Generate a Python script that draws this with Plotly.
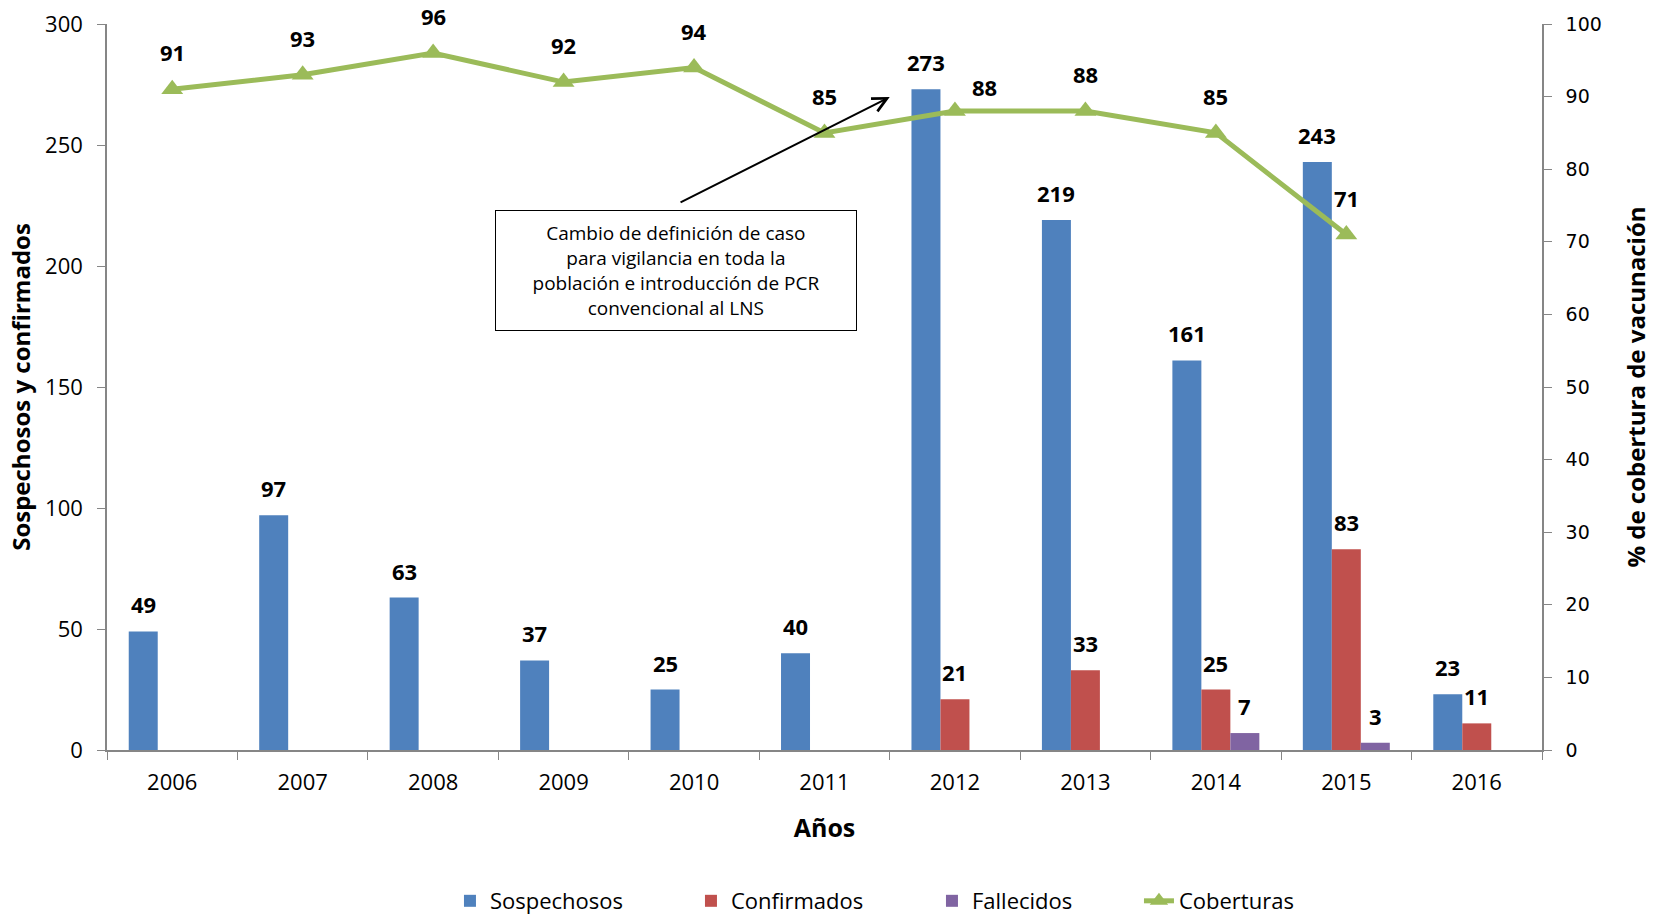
import plotly.graph_objects as go
from plotly.subplots import make_subplots

years = ["2006", "2007", "2008", "2009", "2010", "2011", "2012", "2013", "2014", "2015", "2016"]
sospechosos = [49, 97, 63, 37, 25, 40, 273, 219, 161, 243, 23]
confirmados = [None, None, None, None, None, None, 21, 33, 25, 83, 11]
fallecidos = [None, None, None, None, None, None, None, None, 7, 3, None]
coberturas = [91, 93, 96, 92, 94, 85, 88, 88, 85, 71, None]

C_BLUE = "#4F81BD"
C_RED = "#C0504D"
C_PURPLE = "#8064A2"
C_GREEN = "#9BBB59"
AXIS_C = "#868686"
FONT = "Open Sans"

fig = make_subplots(specs=[[{"secondary_y": True}]])

bar_series = [("Sospechosos", sospechosos, C_BLUE, 196),
              ("Confirmados", confirmados, C_RED, 196),
              ("Fallecidos", fallecidos, C_PURPLE, 162)]
for name, vals, col, lw in bar_series:
    fig.add_trace(go.Bar(x=years, y=vals, name=name, legendwidth=lw,
                         marker=dict(color=col, line=dict(width=0))),
                  secondary_y=False)

fig.add_trace(go.Scatter(x=years, y=coberturas, name="Coberturas", mode="lines+markers",
                         legendwidth=130,
                         line=dict(color=C_GREEN, width=5),
                         marker=dict(symbol="triangle-up", size=19, color=C_GREEN)),
              secondary_y=True)

annotations = []
bargap = 1 / 3
bw = (1 - bargap) / 3
lab_font = dict(family=FONT, size=22, color="black")
for k, (name, vals, col, lw) in enumerate(bar_series):
    for i, v in enumerate(vals):
        if v is None:
            continue
        annotations.append(dict(x=i + (k - 1) * bw, y=v, xref="x", yref="y",
                                text="<b>%d</b>" % v, showarrow=False, yshift=27,
                                font=lab_font))
for i, v in enumerate(coberturas):
    if v is None:
        continue
    xs, ys = 0, 37
    if years[i] == "2012":
        xs, ys = 30, 24
    annotations.append(dict(x=i, y=v, xref="x", yref="y2", text="<b>%d</b>" % v,
                            showarrow=False, xshift=xs, yshift=ys, font=lab_font))

# note box and arrow
annotations.append(dict(x=5.50, y=269.8, xref="x", yref="y", ax=3.885, ay=226.0,
                        axref="x", ayref="y", text="", showarrow=True,
                        arrowhead=5, arrowsize=1.4, arrowwidth=2, arrowcolor="black",
                        standoff=0, startstandoff=0))
annotations.append(dict(x=3.862, y=198.1, xref="x", yref="y",
                        text="Cambio de definición de caso<br>para vigilancia en toda la<br>"
                             "población e introducción de PCR<br>convencional al LNS",
                        showarrow=False, bgcolor="white", bordercolor="black", borderwidth=1,
                        borderpad=0, width=360, height=119, align="center",
                        font=dict(family=FONT, size=19, color="black")))

fig.update_layout(
    width=1662, height=915,
    margin=dict(l=107, r=120, t=24, b=165, autoexpand=False),
    paper_bgcolor="white", plot_bgcolor="white",
    barmode="group", bargap=bargap, bargroupgap=0,
    font=dict(family=FONT, color="black"),
    showlegend=True,
    legend=dict(orientation="h", x=0.239, xanchor="left", y=-0.208, yanchor="middle",
                font=dict(family=FONT, size=22, color="black"), traceorder="normal"),
    annotations=annotations,
)

fig.update_xaxes(type="category", tickson="boundaries", ticks="outside", ticklen=8,
                 domain=[0, 1], range=[-0.5, len(years) - 0.5],
                 tickcolor=AXIS_C, showline=True, linecolor=AXIS_C, linewidth=1.5,
                 showgrid=False, automargin=False, ticklabelstandoff=12,
                 tickfont=dict(family=FONT, size=22, color="black"),
                 title=dict(text="<b>Años</b>", font=dict(family=FONT, size=25, color="black"),
                            standoff=24))
fig.update_yaxes(range=[0, 300], dtick=50, ticks="outside", ticklen=8, tickcolor=AXIS_C,
                 showline=True, linecolor=AXIS_C, linewidth=1.5, showgrid=False, zeroline=False,
                 automargin=False, ticklabelstandoff=10,
                 tickfont=dict(family=FONT, size=22, color="black"),
                 title=dict(text="<b>Sospechosos y confirmados</b>",
                            font=dict(family=FONT, size=24, color="black"), standoff=8),
                 secondary_y=False)
fig.update_yaxes(range=[0, 100], dtick=10, ticks="outside", ticklen=8, tickcolor=AXIS_C,
                 showline=True, linecolor=AXIS_C, linewidth=1.5, showgrid=False, zeroline=False,
                 automargin=False, ticklabelstandoff=10,
                 tickfont=dict(family="DejaVu Sans", size=19, color="black"),
                 title=dict(text="<b>% de cobertura de vacunación</b>",
                            font=dict(family=FONT, size=24, color="black"), standoff=27),
                 secondary_y=True)

fig.write_html("out.html", config={"displayModeBar": False},
               post_script="document.body.style.margin='0px';")
